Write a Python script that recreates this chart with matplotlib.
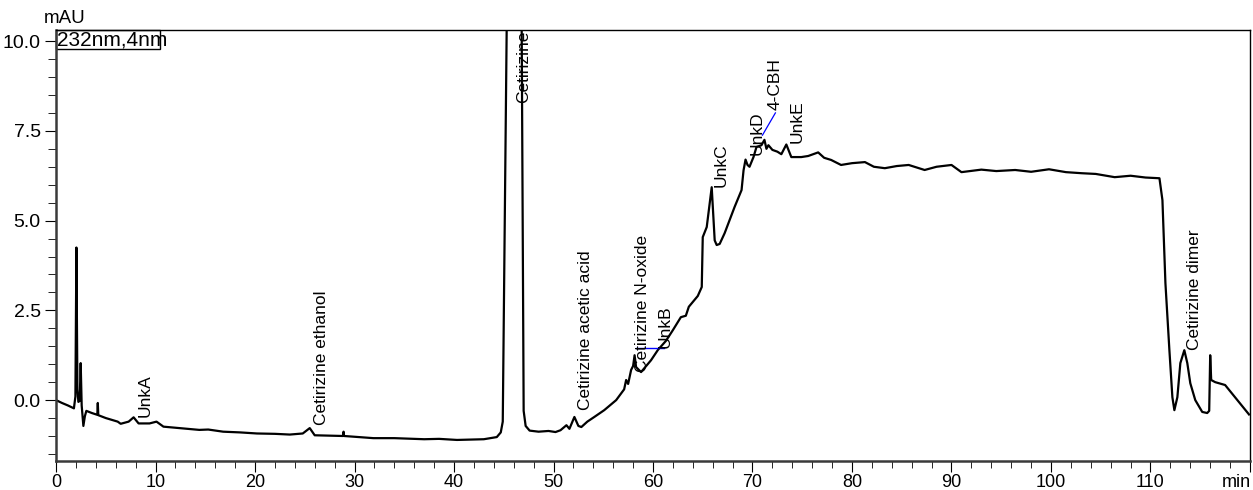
"""
# Chromatogram at 232 nm with labelled impurity peaks
"""

### Packages
import matplotlib
matplotlib.use("Agg")
import matplotlib.pyplot as plt
from matplotlib.patches import Rectangle
from matplotlib.transforms import ScaledTranslation

### Data
time_min = [0.0, 0.6, 1.2, 1.8, 1.95, 2.05, 2.15, 2.25, 2.38, 2.48, 2.58, 2.75, 2.9, 3.05,
            3.6, 4.15, 4.2, 4.25, 5.0, 6.2, 6.5, 7.3, 7.8, 8.3, 9.4, 10.1, 10.8, 12.0,
            13.2, 14.4, 15.3, 16.8, 18.5, 20.2, 22.0, 23.5, 24.8, 25.5, 26.0, 27.5,
            28.85, 28.9, 28.95, 30.5, 31.9, 34.0, 37.0, 38.5, 40.3, 41.8, 43.0, 44.3,
            44.7, 44.9, 45.3, 45.5, 46.5, 46.8, 47.0, 47.2, 47.6, 48.5, 49.5, 50.2,
            50.7, 51.3, 51.6, 52.1, 52.5, 52.8, 53.4, 54.1, 55.1, 56.3, 57.1, 57.3,
            57.5, 57.8, 58.0, 58.15, 58.3, 58.8, 59.8, 60.5, 61.3, 62.0, 62.8, 63.3,
            63.6, 64.5, 64.9, 65.0, 65.4, 65.7, 65.9, 66.2, 66.4, 66.7, 67.2, 68.2,
            68.9, 69.1, 69.3, 69.5, 69.7, 70.1, 70.4, 70.9, 71.2, 71.4, 71.6, 72.0,
            72.5, 72.9, 73.4, 73.9, 74.9, 75.6, 76.6, 77.2, 77.9, 78.9, 80.0, 81.3,
            82.2, 83.3, 84.5, 85.7, 87.3, 88.5, 90.0, 91.0, 93.0, 94.5, 96.4, 98.0,
            99.8, 101.5, 103.1, 104.5, 106.4, 108.0, 109.5, 110.9, 111.2, 111.5, 111.9,
            112.2, 112.4, 112.7, 113.0, 113.4, 113.7, 114.0, 114.5, 115.2, 115.7, 115.9,
            116.0, 116.1, 116.5, 117.5, 118.5, 119.9]
signal_mau = [0.0, -0.08, -0.15, -0.23, 0.1, 4.25, 0.3, -0.05, -0.02, 1.03, -0.15, -0.72, -0.45, -0.3,
              -0.36, -0.41, -0.08, -0.42, -0.5, -0.6, -0.66, -0.6, -0.48, -0.65, -0.65, -0.6, -0.74, -0.77,
              -0.8, -0.83, -0.82, -0.88, -0.9, -0.93, -0.94, -0.96, -0.93, -0.78, -0.98, -0.99,
              -1.0, -0.88, -1.0, -1.03, -1.06, -1.06, -1.09, -1.08, -1.11, -1.1, -1.09, -1.03,
              -0.9, -0.6, 10.5, 25.0, 25.0, 10.5, -0.3, -0.72, -0.85, -0.88, -0.86, -0.89,
              -0.84, -0.7, -0.8, -0.47, -0.72, -0.75, -0.6, -0.47, -0.28, 0.0, 0.3, 0.56,
              0.45, 0.84, 0.95, 1.25, 0.92, 0.78, 1.11, 1.4, 1.65, 1.95, 2.31, 2.35,
              2.6, 2.9, 3.15, 4.54, 4.82, 5.49, 5.93, 4.45, 4.32, 4.35, 4.65, 5.38,
              5.85, 6.4, 6.7, 6.55, 6.5, 6.77, 7.05, 7.1, 7.25, 7.0, 7.1, 6.97,
              6.92, 6.85, 7.12, 6.77, 6.77, 6.8, 6.9, 6.75, 6.69, 6.55, 6.6, 6.63,
              6.5, 6.46, 6.52, 6.55, 6.41, 6.5, 6.55, 6.35, 6.42, 6.38, 6.41, 6.36,
              6.43, 6.35, 6.32, 6.3, 6.21, 6.25, 6.2, 6.18, 5.57, 3.26, 1.39,
              0.08, -0.28, 0.08, 1.03, 1.39, 1.03, 0.47, 0.0, -0.33, -0.36, -0.3,
              1.25, 0.56, 0.5, 0.42, 0.08, -0.4]

# Peak names with the retention time and height where the name starts
peak_names = ["UnkA", "Cetirizine ethanol", "Cetirizine", "Cetirizine acetic acid",
              "Cetirizine N-oxide", "UnkB", "UnkC", "UnkD", "4-CBH", "UnkE", "Cetirizine dimer"]
peak_times = [8.94, 26.7, 47.0, 53.2, 58.9, 61.2, 66.8, 70.5, 72.3, 74.5, 114.4]
peak_heights = [-0.47, -0.70, 8.27, -0.28, 0.78, 1.45, 5.93, 6.82, 8.08, 7.16, 1.39]

# Blue integration baseline (UnkB) and label leader (4-CBH)
unkb_base_t = [58.3, 61.1]
unkb_base_y = [1.46, 1.46]
cbh_lead_t = [71.0, 72.3]
cbh_lead_y = [7.38, 8.0]

x_ticks = [0, 10, 20, 30, 40, 50, 60, 70, 80, 90, 100, 110, 120]
x_tick_labels = ["0", "10", "20", "30", "40", "50", "60", "70", "80", "90", "100", "110", "min"]
y_ticks = [0.0, 2.5, 5.0, 7.5, 10.0]

### Plot
plt.rcParams['font.family'] = ['Liberation Sans', 'DejaVu Sans']
fig = plt.figure(figsize=(12.53, 4.9), dpi=100)
ax = fig.add_axes([0.0447, 0.0582, 0.9529, 0.8806])

ax.plot(time_min, signal_mau, color='black', lw=1.6)
ax.plot(unkb_base_t, unkb_base_y, color='#0000ff', lw=1.0)
ax.plot(cbh_lead_t, cbh_lead_y, color='#0000ff', lw=0.9)

for name, t, h in zip(peak_names, peak_times, peak_heights):
    ax.text(t, h, name, rotation=90, ha='center', va='bottom', fontsize=12.5)

ax.set_xlim(0, 120)
ax.set_ylim(-1.71, 10.31)

# Ticks
ax.set_xticks(x_ticks)
ax.set_xticklabels(x_tick_labels)
ax.set_xticks(range(0, 121, 2), minor=True)
ax.set_yticks(y_ticks)
ax.set_yticklabels(["%.1f" % v for v in y_ticks])
ax.set_yticks([v * 0.5 for v in range(-3, 21)], minor=True)
ax.tick_params(axis='both', which='major', direction='out')
ax.tick_params(axis='x', which='major', length=8, pad=1, labelsize=13)
ax.tick_params(axis='x', which='minor', length=5)
ax.tick_params(axis='y', which='major', length=8, pad=3, labelsize=14)
ax.tick_params(axis='y', which='minor', length=6)
# "min" sits at the right end, pulled in so it stays on the canvas
last = ax.get_xticklabels()[-1]
last.set_transform(last.get_transform() + ScaledTranslation(-0.14, 0, fig.dpi_scale_trans))

# Spines
for side in ['left', 'bottom']:
    ax.spines[side].set_color('#3a3a3a')
    ax.spines[side].set_linewidth(1.8)
for side in ['top', 'right']:
    ax.spines[side].set_color('black')
    ax.spines[side].set_linewidth(1.0)

# Unit label and wavelength box
ax.text(0.0075, 1.008, "mAU", transform=ax.transAxes, ha='center', va='bottom', fontsize=13.5)
ax.add_patch(Rectangle((0.0, 0.956), 0.0871, 0.044, transform=ax.transAxes,
                       fill=False, edgecolor='black', lw=1.0, clip_on=False))
ax.text(0.001, 0.977, "232nm,4nm", transform=ax.transAxes, ha='left', va='center', fontsize=15)

plt.savefig("out.png", format='png', dpi=100)
